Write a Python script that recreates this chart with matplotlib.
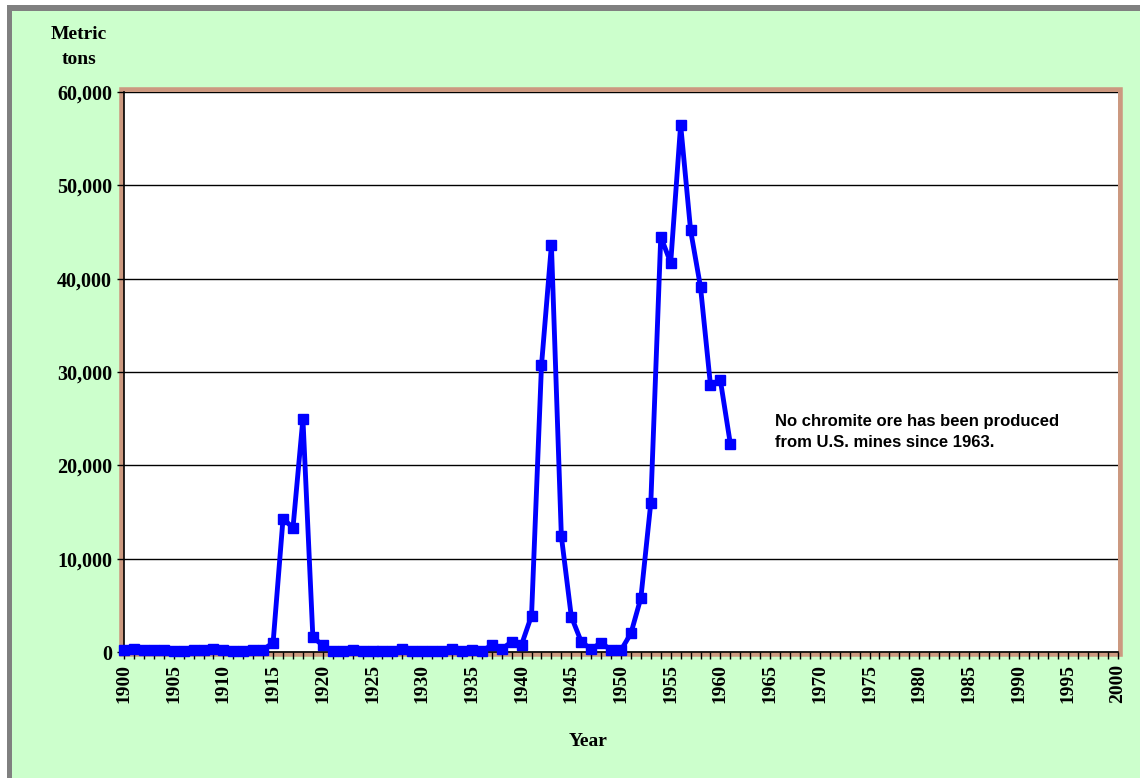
import matplotlib.pyplot as plt
from matplotlib.patches import Rectangle
from matplotlib.ticker import FuncFormatter, MultipleLocator

# U.S. chromite ore production, metric tons
years = list(range(1900, 1962))
tons = [
    200, 300, 250, 200, 200, 100, 150, 200, 250, 300,   # 1900-1909
    200, 150, 150, 200, 250, 1000, 14300, 13300, 25000, 1600,   # 1910-1919
    700, 100, 150, 200, 150, 150, 100, 150, 300, 150,   # 1920-1929
    150, 150, 150, 300, 150, 200, 150, 700, 300, 1100,   # 1930-1939
    800, 3900, 30700, 43600, 12400, 3800, 1100, 300, 1000, 200,   # 1940-1949
    200, 2000, 5800, 16000, 44500, 41700, 56500, 45200, 39100, 28600,   # 1950-1959
    29100, 22300,   # 1960-1961
]
note = "No chromite ore has been produced\nfrom U.S. mines since 1963."

W, H = 1140, 778


def px(x, y, w, h):
    # pixel box (top-left origin) -> figure fraction rect
    return (x / W, 1 - (y + h) / H), w / W, h / H


fig = plt.figure(figsize=(W / 100, H / 100), dpi=100, facecolor="white")
# green chart area with grey top/left edge
xy, w, h = px(12, 11, W - 12, H - 11)
fig.patches.append(Rectangle(xy, w, h, transform=fig.transFigure, facecolor="#CCFFCC",
                             edgecolor="none", zorder=-3))
xy, w, h = px(7, 5, W - 7, 6)
fig.patches.append(Rectangle(xy, w, h, transform=fig.transFigure, facecolor="#808080",
                             edgecolor="none", zorder=-3))
xy, w, h = px(7, 5, 5, H - 5)
fig.patches.append(Rectangle(xy, w, h, transform=fig.transFigure, facecolor="#808080",
                             edgecolor="none", zorder=-3))

left, right, top, bottom = 124, 1118, 92, 652
# tan plot-area border, drawn just outside the axes box
xy, w, h = px(left - 2, top - 2, right - left + 4, bottom - top + 4)
fig.patches.append(Rectangle(xy, w, h, transform=fig.transFigure, facecolor="none",
                             edgecolor="#CC9980", linewidth=4, zorder=-2))

ax = fig.add_axes((left / W, 1 - bottom / H, (right - left) / W, (bottom - top) / H))
ax.set_zorder(1)
ax.set_facecolor("white")

ax.plot(years, tons, color="#0000FF", linewidth=3.5, marker="s", markersize=7,
        clip_on=False, zorder=3)

ax.set_xlim(1900, 2000)
ax.set_ylim(0, 60000)
ax.yaxis.set_major_locator(MultipleLocator(10000))
ax.yaxis.set_major_formatter(FuncFormatter(lambda v, p: f"{int(v):,}"))
ax.xaxis.set_major_locator(MultipleLocator(5))
ax.xaxis.set_minor_locator(MultipleLocator(1))
ax.grid(axis="y", color="black", linewidth=1)
ax.set_axisbelow(True)

for s in ("top", "right"):
    ax.spines[s].set_visible(False)
for s in ("left", "bottom"):
    ax.spines[s].set_color("black")
    ax.spines[s].set_linewidth(1.2)

ax.tick_params(axis="x", which="both", direction="out", length=5, width=1, color="black")
ax.tick_params(axis="y", direction="out", length=5, width=1)
for lab in ax.get_yticklabels():
    lab.set_fontfamily("Liberation Serif")
    lab.set_fontweight("bold")
    lab.set_fontsize(14.5)
for lab in ax.get_xticklabels():
    lab.set_fontfamily("Liberation Serif")
    lab.set_fontweight("bold")
    lab.set_fontsize(14)
    lab.set_rotation(90)

fig.text(588 / W, 1 - 741 / H, "Year", ha="center", va="center",
         fontfamily="Liberation Serif", fontweight="bold", fontsize=14)
fig.text(79 / W, 1 - 47 / H, "Metric\ntons", ha="center", va="center",
         fontfamily="Liberation Serif", fontweight="bold", fontsize=14, linespacing=1.65)
fig.text(775 / W, 1 - 432 / H, note, ha="left", va="center",
         fontfamily="Liberation Sans", fontweight="bold", fontsize=12, linespacing=1.5)

fig.savefig("out.png", dpi=100, facecolor=fig.get_facecolor())
